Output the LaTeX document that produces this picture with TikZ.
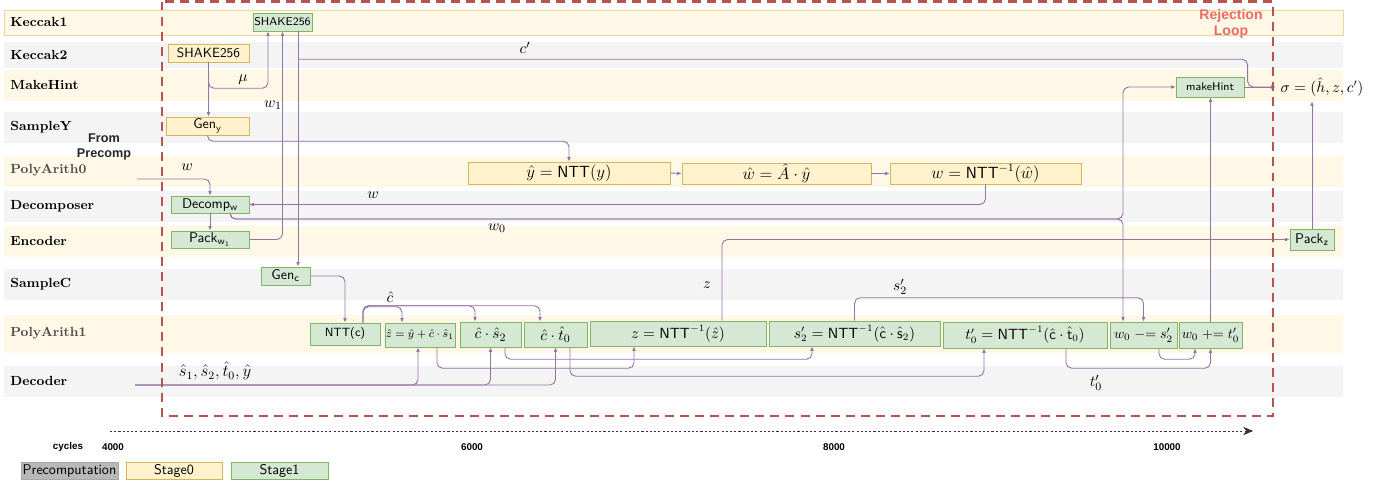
\documentclass[tikz,border=0pt]{standalone}
\usepackage{fontspec}
\usepackage{amsmath}
\newfontfamily\annofont{Liberation Sans}
\usetikzlibrary{arrows.meta,calc}

\definecolor{laneyellow}{HTML}{FFF8E6}
\definecolor{lanegray}{HTML}{F4F4F4}
\definecolor{keccakline}{HTML}{EBD89C}
\definecolor{stagezero}{HTML}{FFF2CC}
\definecolor{stagezeroline}{HTML}{D6B656}
\definecolor{stageone}{HTML}{D5E8D4}
\definecolor{stageoneline}{HTML}{82B366}
\definecolor{flowpurple}{HTML}{9673A6}
\definecolor{loopred}{HTML}{B85450}
\definecolor{looptext}{HTML}{EA6B66}
\definecolor{precompgray}{HTML}{B8B8B8}

\begin{document}
\begin{tikzpicture}[x=0.25mm, y=-0.25mm,
        lane_label/.style={anchor=west, font=\bfseries\fontsize{9.4}{11}\selectfont},
        stage_zero/.style={rectangle, draw=stagezeroline, fill=stagezero, inner sep=0pt, font=\sffamily},
        stage_one/.style={rectangle, draw=stageoneline, fill=stageone, inner sep=0pt, font=\sffamily},
        big_math/.style={font=\fontsize{10.5}{12}\selectfont},
        flow/.style={draw=flowpurple, line width=0.65pt, rounded corners=4pt, -{Latex[length=3.2pt,width=2.6pt]}},
        edge_label/.style={inner sep=1pt, font=\fontsize{11}{13}\selectfont},
        note/.style={font=\annofont\bfseries\fontsize{9}{11}\selectfont, align=center},
        tick/.style={font=\annofont\bfseries\fontsize{7}{8}\selectfont},
        legend_box/.style={rectangle, minimum width=24.25mm, minimum height=4.25mm, inner sep=0pt, font=\sffamily}
    ]
    \useasboundingbox (0,0) rectangle (1390,481);

    % Lanes
    \filldraw[fill=laneyellow, draw=keccakline] (4,10) rectangle (1343,35);
    \fill[lanegray] (4,42) rectangle (1343,68);
    \fill[laneyellow] (4,70) rectangle (1343,101);
    \fill[lanegray] (4,112) rectangle (1343,143);
    \fill[laneyellow] (4,156) rectangle (1343,187);
    \fill[lanegray] (4,191) rectangle (1343,222);
    \fill[laneyellow] (4,226) rectangle (1343,257);
    \fill[lanegray] (4,269) rectangle (1343,300);
    \fill[laneyellow] (4,315) rectangle (1343,353);
    \fill[lanegray] (4,366) rectangle (1343,397);

    \node[lane_label] (l_keccak1) at (5.5,22) {Keccak1};
    \node[lane_label] (l_keccak2) at (5.5,55) {Keccak2};
    \node[lane_label] (l_makehint) at (5.5,85) {MakeHint};
    \node[lane_label] (l_sampley) at (5.5,127) {SampleY};
    \node[lane_label, text=black!70] (l_poly0) at (5.5,170) {PolyArith0};
    \node[lane_label] (l_decomposer) at (5.5,206) {Decomposer};
    \node[lane_label] (l_encoder) at (5.5,241) {Encoder};
    \node[lane_label] (l_samplec) at (5.5,284) {SampleC};
    \node[lane_label, text=black!70] (l_poly1) at (5.5,333) {PolyArith1};
    \node[lane_label] (l_decoder) at (5.5,381) {Decoder};

    % Stage0 blocks
    \node[stage_zero, minimum width=20.25mm, minimum height=4.5mm, font=\sffamily\fontsize{9.5}{11}\selectfont] (shk2) at (208.5,53) {SHAKE256};
    \node[stage_zero, minimum width=20.75mm, minimum height=4.5mm] (geny) at (207.5,126) {Gen$_\mathsf{y}$};
    \node[stage_zero, font=\fontsize{11.5}{13}\selectfont, minimum width=50.5mm, minimum height=5.5mm] (yhat) at (569,173) {$\hat{y} = \mathsf{NTT}(y)$};
    \node[stage_zero, font=\fontsize{11.5}{13}\selectfont, minimum width=47.25mm, minimum height=5.25mm] (what) at (776.5,173.5) {$\hat{w} = \hat{A}\cdot\hat{y}$};
    \node[stage_zero, font=\fontsize{11.5}{13}\selectfont, minimum width=47.75mm, minimum height=5.25mm] (wntt) at (985.5,173.5) {$w = \mathsf{NTT}^{-1}(\hat{w})$};

    % Stage1 blocks
    \node[stage_one, minimum width=14.75mm, minimum height=4.5mm, font=\sffamily\footnotesize] (shk1) at (282.5,22) {SHAKE256};
    \node[stage_one, minimum width=19.5mm, minimum height=4.25mm] (decomp) at (210,204.5) {Decomp$_\mathsf{w}$};
    \node[stage_one, minimum width=19.5mm, minimum height=4.25mm] (packw) at (210,239.5) {Pack$_{\mathsf{w}_1}$};
    \node[stage_one, minimum width=12.25mm, minimum height=4.5mm] (genc) at (285.5,276) {Gen$_\mathsf{c}$};
    \node[stage_one, minimum width=17.5mm, minimum height=5.5mm, font=\sffamily\fontsize{8.5}{10}\selectfont] (nttc) at (345,334) {NTT(c)};
    \node[stage_one, minimum width=17.5mm, minimum height=6mm, font=\fontsize{8.3}{10}\selectfont] (zhat) at (420,335) {$\hat{z} = \hat{y} + \hat{c}\cdot\hat{s}_1$};
    \node[stage_one, minimum width=15.25mm, minimum height=6.25mm, font=\fontsize{11}{13}\selectfont] (cs2) at (490.5,334.5) {$\hat{c}\cdot\hat{s}_2$};
    \node[stage_one, minimum width=15.75mm, minimum height=6.25mm, font=\fontsize{11}{13}\selectfont] (ct0) at (555.5,334.5) {$\hat{c}\cdot\hat{t}_0$};
    \node[stage_one, big_math, minimum width=44mm, minimum height=6.25mm] (zinv) at (678,333.5) {$z = \mathsf{NTT}^{-1}(\hat{z})$};
    \node[stage_one, big_math, minimum width=42.75mm, minimum height=6.25mm] (s2inv) at (854.5,333.5) {$s'_2 = \mathsf{NTT}^{-1}(\hat{\mathsf{c}}\cdot\hat{\mathsf{s}}_2)$};
    \node[stage_one, big_math, minimum width=41mm, minimum height=6.5mm] (t0inv) at (1025,335) {$t'_0 = \mathsf{NTT}^{-1}(\hat{\mathsf{c}}\cdot\hat{\mathsf{t}}_0)$};
    \node[stage_one, font=\fontsize{10}{12}\selectfont, minimum width=16.75mm, minimum height=6.5mm] (wsub) at (1143.5,335) {$w_0 \mathrel{-}= s'_2$};
    \node[stage_one, font=\fontsize{10}{12}\selectfont, minimum width=15.75mm, minimum height=6.5mm] (wadd) at (1210.5,335) {$w_0 \mathrel{+}= t'_0$};
    \node[stage_one, minimum width=17mm, minimum height=5mm, font=\sffamily\footnotesize] (mkhint) at (1210,87) {makeHint};
    \node[stage_one, minimum width=11mm, minimum height=5.25mm] (packz) at (1312,239.5) {Pack$_\mathsf{z}$};
    \node[big_math] (sigma) at (1322,87) {$\sigma = (\hat{h}, z, c')$};

    % Free ends
    \coordinate (pre_in) at (137,179);
    \coordinate (dec_in) at (135,385);
    \coordinate (w0_split) at (1123,219);

    % Keccak / sampling connectors
    \draw[flow] (shk2.south) -- (shk2.south |- geny.north);
    \draw[flow] (shk2.south) |- ($(shk1.south)+(-14.5,57)$) -- ($(shk1.south)+(-14.5,0)$);
    \draw[flow] (packw.east) -| (shk1.south);
    \draw[flow] ($(shk1.south)+(15.5,0)$) -- ($(genc.north)+(12.5,0)$);
    \draw[flow] ($(shk1.south)+(15.5,28)$) -| ($(sigma.west)+(-28,0)$) -- (sigma.west);
    \draw[flow] (geny.south) -- ++(0,6) -| (yhat.north);
    \draw[flow] (yhat.east) -- (what.west);
    \draw[flow] (what.east) -- (wntt.west);
    \draw[flow] (wntt.south) |- (decomp.east);
    \draw[flow] (pre_in) -| (decomp.north);
    \draw[flow] (decomp.south) -- (packw.north);
    \draw[flow] ($(decomp.south)+(20,0)$) |- (w0_split) |- (mkhint.west);
    \draw[flow] ($(decomp.south)+(20,0)$) |- (w0_split) -- (w0_split |- wsub.north);
    \draw[flow] (genc.east) -| (nttc.north);

    % c-hat bus
    \draw[flow] ($(nttc.north)+(18,0)$) |- ($(zhat.north)+(-18,-16)$) -- ($(zhat.north)+(-18,0)$);
    \draw[flow] ($(nttc.north)+(18,0)$) |- ($(cs2.north)+(-15.5,-16)$) -- ($(cs2.north)+(-15.5,0)$);
    \draw[flow] ($(nttc.north)+(18,0)$) |- ($(ct0.north)+(-15.5,-16)$) -- ($(ct0.north)+(-15.5,0)$);

    % Decoder bus
    \draw[flow] (dec_in) -| ($(zhat.south)+(-2,0)$);
    \draw[flow] (dec_in) -| (cs2.south);
    \draw[flow] (dec_in) -| (ct0.south);

    % PolyArith1 chain
    \draw[flow] ($(zhat.south)+(17,0)$) -- ++(0,21) -| ($(zinv.south)+(-44,0)$);
    \draw[flow] ($(cs2.south)+(14.5,0)$) -- ++(0,12) -| ($(s2inv.south)+(-42.5,0)$);
    \draw[flow] ($(ct0.south)+(14.5,0)$) -- ++(0,29) -| ($(t0inv.south)+(-41,0)$);
    \draw[flow] ($(t0inv.south)+(41,0)$) -- ++(0,20) -| (wadd.south);
    \draw[flow] ($(wsub.south)+(15.5,0)$) -- ++(0,11) -| ($(wadd.south)+(-15.5,0)$);
    \draw[flow] ($(zinv.north)+(44,0)$) |- (packz.west);
    \draw[flow] (s2inv.north) -- ++(0,-23) -| (wsub.north);
    \draw[flow] (wadd.north) -- (wadd.north |- mkhint.south);
    \draw[flow] (packz.north) -- (packz.north |- sigma.south);
    \draw[flow] (mkhint.east) -- (mkhint.east -| sigma.west);

    % Connector labels
    \node[edge_label] (lbl_mu) at (243,80) {$\mu$};
    \node[edge_label] (lbl_w1) at (273,105) {$w_1$};
    \node[edge_label] (lbl_cp) at (525,48) {$c'$};
    \node[edge_label] (lbl_wpre) at (187,167) {$w$};
    \node[edge_label] (lbl_w) at (373,195) {$w$};
    \node[edge_label] (lbl_w0) at (497,228) {$w_0$};
    \node[edge_label] (lbl_z) at (707,285) {$z$};
    \node[edge_label] (lbl_s2) at (900,287) {$s'_2$};
    \node[edge_label] (lbl_chat) at (390,297) {$\hat{c}$};
    \node[edge_label, font=\fontsize{12}{14}\selectfont] (lbl_dec) at (215,371) {$\hat{s}_1, \hat{s}_2, \hat{t}_0, \hat{y}$};
    \node[edge_label] (lbl_t0) at (1096,383) {$t'_0$};
    \node[note, text=black!85] (from_pre) at (104,147) {From\\Precomp};

    % Rejection loop
    \draw[loopred, line width=2pt, dash pattern=on 6.4pt off 4.3pt] (162,1.5) rectangle (1273,416);
    \node[note, text=looptext, font=\annofont\bfseries\fontsize{10}{11.5}\selectfont] (reject) at (1231,24) {Rejection\\Loop};

    % Cycle axis
    \coordinate (t_start) at (110,431);
    \coordinate (t_end) at (1253,431);
    \draw[black!80, dash pattern=on 1.5pt off 1.5pt, -{Stealth[length=7pt,width=6pt]}] (t_start) -- (t_end);
    \node[tick] (c_label) at (68,447) {cycles};
    \node[tick] (c_4000) at (113,447) {4000};
    \node[tick] (c_6000) at (472,447) {6000};
    \node[tick] (c_8000) at (834,447) {8000};
    \node[tick] (c_10000) at (1167,447) {10000};

    % Legend
    \node[legend_box, fill=precompgray, draw=black!35] (leg_pre) at (69.5,470.5) {Precomputation};
    \node[legend_box, fill=stagezero, draw=stagezeroline, minimum width=24mm] (leg_s0) at (174,470.5) {Stage0};
    \node[legend_box, fill=stageone, draw=stageoneline] (leg_s1) at (279.5,470.5) {Stage1};

    \end{tikzpicture}
\end{document}
